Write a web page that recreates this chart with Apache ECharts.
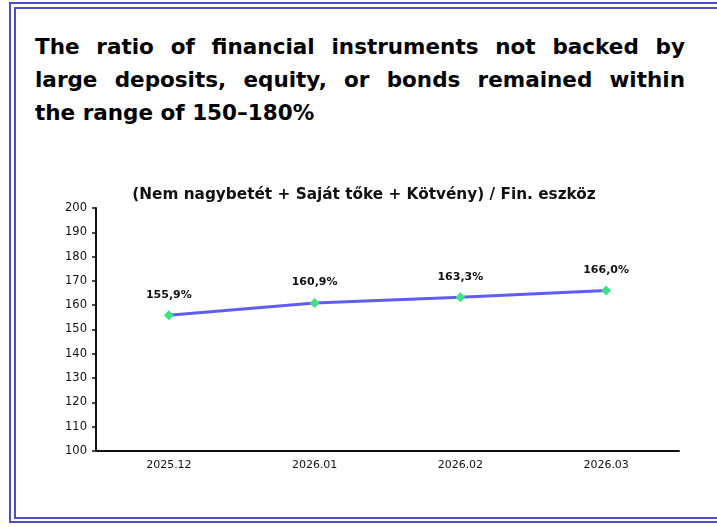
<!DOCTYPE html>
<html>
<head>
<meta charset="utf-8">
<script src="https://cdn.jsdelivr.net/npm/echarts@6/dist/echarts.min.js"></script>
<style>
  html, body { margin: 0; padding: 0; background: #fff; }
  .page { position: relative; width: 717px; height: 527px; overflow: hidden; }
  .frame-outer { position: absolute; left: 9px; top: 2px; width: 740px; height: 521px; border: 2px solid #4f4fc2; box-sizing: border-box; }
  .frame-inner { position: absolute; left: 14px; top: 7px; width: 740px; height: 512px; border: 2px solid #4f4fc2; box-sizing: border-box; }
  .heading {
    position: absolute; left: 35px; top: 30px; width: 650px;
    font-family: 'DejaVu Sans', sans-serif;
    font-weight: bold; font-size: 21.5px; line-height: 33px; color: #000;
  }
  .heading .just { text-align: justify; text-align-last: justify; white-space: nowrap; }
  #echart { position: absolute; left: 0; top: 0; width: 717px; height: 527px; }
</style>
</head>
<body>
<div class="page">
  <div class="frame-outer"></div>
  <div class="frame-inner"></div>
  <div class="heading">
    <div class="just">The ratio of financial instruments not backed by</div>
    <div class="just">large deposits, equity, or bonds remained within</div>
    <div>the range of 150–180%</div>
  </div>
  <div id="echart"></div>
</div>
<script>
// adatok
const chartTitle = '(Nem nagybetét + Saját tőke + Kötvény) / Fin. eszköz'
const categories = ['2025.12', '2026.01', '2026.02', '2026.03']
const ratioValues = [155.9, 160.9, 163.3, 166.0]
const yMin = 100
const yMax = 200
const yStep = 10

const font = "'DejaVu Sans', sans-serif"
const chart = echarts.init(document.getElementById('echart'), null, { renderer: 'canvas' })

chart.setOption({
  animation: false,
  textStyle: { fontFamily: font },
  title: {
    text: chartTitle,
    left: 359,
    textAlign: 'center',
    top: 183,
    textStyle: { fontFamily: font, fontWeight: 'bold', fontSize: 15.3, color: '#111' }
  },
  grid: { left: 96, right: 38, top: 208, bottom: 76, containLabel: false },
  xAxis: {
    type: 'category',
    data: categories,
    boundaryGap: true,
    axisLine: { lineStyle: { color: '#111', width: 2 } },
    axisTick: { show: false },
    axisLabel: { color: '#111', fontSize: 11, fontFamily: font, margin: 9 }
  },
  yAxis: {
    type: 'value',
    min: yMin,
    max: yMax,
    interval: yStep,
    splitLine: { show: false },
    axisLine: { show: true, lineStyle: { color: '#111', width: 2 } },
    axisTick: { show: true, length: 4, lineStyle: { color: '#111', width: 1.5 } },
    axisLabel: { color: '#111', fontSize: 11.5, fontFamily: font, margin: 9 }
  },
  series: [
    {
      type: 'line',
      data: ratioValues,
      symbol: 'diamond',
      symbolSize: 10,
      lineStyle: { color: '#5e5ef2', width: 3 },
      itemStyle: { color: '#3fe08a' },
      label: {
        show: true,
        position: 'top',
        distance: 10,
        fontFamily: font,
        fontWeight: 'bold',
        fontSize: 11,
        color: '#111',
        formatter: p => p.value.toFixed(1).replace('.', ',') + '%'
      }
    }
  ]
})
</script>
</body>
</html>
